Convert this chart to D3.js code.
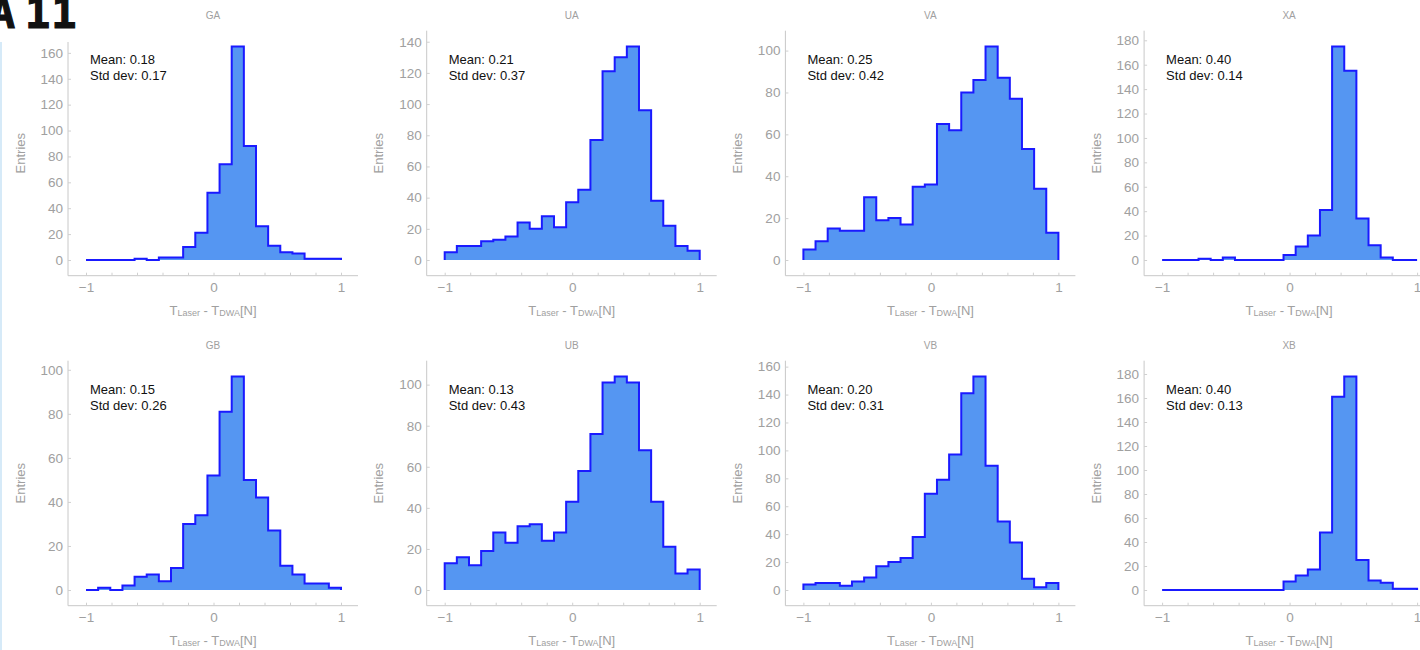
<!DOCTYPE html>
<html>
<head>
<meta charset="utf-8">
<script src="https://cdn.jsdelivr.net/npm/d3@7"></script>
<style>
  html, body { margin: 0; padding: 0; background: #fff; overflow: hidden; }
  svg { display: block; }
  text { font-family: "Liberation Sans", Arial, sans-serif; }
</style>
</head>
<body>
<svg id="chart" width="1420" height="650"></svg>
<script>
// ---- Data -------------------------------------------------------------
const panelNames = ["GA", "UA", "VA", "XA", "GB", "UB", "VB", "XB"];

// Histogram range and number of equal-width bins
const binLow = -1;
const binHigh = 1;
const binTotal = 21;

// Entries per bin, left to right
const countsGA = [0, 0, 0, 0, 1, 0, 2, 2, 10, 21, 52, 74, 165, 88, 26, 11, 6, 5, 1, 1, 1];
const countsUA = [5, 9, 9, 12, 13, 15, 24, 20, 28, 21, 37, 45, 77, 121, 130, 137, 96, 38, 22, 9, 6];
const countsVA = [5, 9, 15, 14, 14, 30, 19, 20, 17, 35, 36, 65, 62, 80, 86, 102, 87, 77, 53, 34, 13];
const countsXA = [0, 0, 0, 1, 0, 2, 0, 0, 0, 0, 4, 11, 20, 41, 175, 155, 34, 12, 2, 0, 0];
const countsGB = [0, 1, 0, 2, 6, 7, 4, 10, 30, 34, 52, 81, 97, 50, 42, 27, 11, 7, 3, 3, 1];
const countsUB = [13, 16, 12, 19, 28, 23, 31, 32, 24, 28, 43, 58, 76, 101, 104, 101, 68, 43, 21, 8, 10];
const countsVB = [4, 5, 5, 3, 6, 9, 17, 20, 23, 38, 69, 79, 97, 141, 153, 89, 49, 34, 8, 2, 5];
const countsXB = [0, 0, 0, 0, 0, 0, 0, 0, 0, 0, 7, 12, 17, 48, 161, 178, 25, 8, 6, 1, 1];

const panelCounts = [countsGA, countsUA, countsVA, countsXA, countsGB, countsUB, countsVB, countsXB];

const means   = [0.18, 0.21, 0.25, 0.40, 0.15, 0.13, 0.20, 0.40];
const stdDevs = [0.17, 0.37, 0.42, 0.14, 0.26, 0.43, 0.31, 0.13];

// Tick labels
const xTickValues = [-1, 0, 1];
const xMinorTickValues = [-1, -0.8, -0.6, -0.4, -0.2, 0, 0.2, 0.4, 0.6, 0.8, 1];
const yTickTops = [160, 140, 100, 180, 100, 100, 160, 180];
const yTickStep = 20;

// ---- Layout -----------------------------------------------------------
const colLeft0 = 68, colStep = 358.7;
const rowTop0 = 30.7, rowStep = 330;
const plotW = 290, plotH = 245;
const xLeft = 18, xRight = 273;     // where -1 and 1 sit inside the frame
const yZero = 229.3, yPeak = 15.7;  // where 0 and the tallest bin sit

const fillColor = "#5596f2";
const lineColor = "#1a1aff";
const axisColor = "#c8c8c8";
const labelColor = "#a0a0a0";

const svg = d3.select("#chart");
svg.append("rect").attr("width", 1420).attr("height", 650).attr("fill", "#fff");

// thin page edge on the left
svg.append("rect")
  .attr("x", 0).attr("y", 42).attr("width", 2).attr("height", 608)
  .attr("fill", "#d6eaf8");

const binWidth = (binHigh - binLow) / binTotal;

panelNames.forEach((name, i) => {
  const col = i % 4, row = Math.floor(i / 4);
  const left = colLeft0 + col * colStep;
  const top = rowTop0 + row * rowStep;
  const counts = panelCounts[i];

  const g = svg.append("g").attr("transform", `translate(${left},${top})`);

  const x = d3.scaleLinear().domain([binLow, binHigh]).range([xLeft, xRight]);
  const y = d3.scaleLinear().domain([0, d3.max(counts)]).range([yZero, yPeak]);

  // step points: one per bin lower edge, closed at the upper edge
  const pts = counts.map((c, k) => ({ x: binLow + k * binWidth, y: c }));
  pts.push({ x: binHigh, y: counts[counts.length - 1] });

  const area = d3.area()
    .curve(d3.curveStepAfter)
    .x(d => x(d.x))
    .y0(y(0))
    .y1(d => y(d.y));

  const line = d3.line()
    .curve(d3.curveStepAfter)
    .x(d => x(d.x))
    .y(d => y(d.y));

  g.append("path")
    .datum(pts)
    .attr("d", area)
    .attr("fill", fillColor);

  g.append("path")
    .datum([{ x: binLow, y: 0 }, ...pts, { x: binHigh, y: 0 }])
    .attr("d", line)
    .attr("fill", "none")
    .attr("stroke", lineColor)
    .attr("stroke-width", 2)
    .attr("stroke-linejoin", "miter");

  // frame lines
  g.append("line")
    .attr("x1", 0).attr("x2", 0).attr("y1", 0).attr("y2", plotH)
    .attr("stroke", axisColor).attr("stroke-width", 1);
  g.append("line")
    .attr("x1", 0).attr("x2", plotW).attr("y1", plotH).attr("y2", plotH)
    .attr("stroke", axisColor).attr("stroke-width", 1);

  // y axis
  const yAxis = d3.axisLeft(y)
    .tickValues(d3.range(0, yTickTops[i] + 1, yTickStep))
    .tickSize(-3)
    .tickSizeOuter(0)
    .tickPadding(5);
  const ya = g.append("g").call(yAxis);
  ya.select(".domain").remove();
  ya.selectAll(".tick line").attr("stroke", "#d0d0d0");
  ya.selectAll(".tick text")
    .attr("fill", labelColor)
    .style("font-size", "13.5px")
    .style("font-family", "'Liberation Sans', Arial, sans-serif");

  // x axis: minor ticks
  const xMinor = d3.axisBottom(x)
    .tickValues(xMinorTickValues)
    .tickSize(-3)
    .tickSizeOuter(0)
    .tickFormat("");
  const xm = g.append("g").attr("transform", `translate(0,${plotH})`).call(xMinor);
  xm.select(".domain").remove();
  xm.selectAll(".tick line").attr("stroke", "#d0d0d0");

  // x axis: labels
  const xAxis = d3.axisBottom(x)
    .tickValues(xTickValues)
    .tickSize(0)
    .tickSizeOuter(0)
    .tickPadding(7)
    .tickFormat(d3.format("d"));
  const xa = g.append("g").attr("transform", `translate(0,${plotH})`).call(xAxis);
  xa.select(".domain").remove();
  xa.selectAll(".tick text")
    .attr("fill", labelColor)
    .style("font-size", "13.5px")
    .style("font-family", "'Liberation Sans', Arial, sans-serif");

  // panel title
  g.append("text")
    .attr("x", plotW / 2).attr("y", -11.5)
    .attr("text-anchor", "middle")
    .attr("fill", labelColor)
    .style("font-size", "10px")
    .text(name);

  // y axis title
  g.append("text")
    .attr("transform", `translate(-48,${plotH / 2}) rotate(-90)`)
    .attr("dy", "0.35em")
    .attr("text-anchor", "middle")
    .attr("fill", labelColor)
    .style("font-size", "13px")
    .text("Entries");

  // x axis title with subscripts
  const xt = g.append("text")
    .attr("x", plotW / 2).attr("y", 284.5)
    .attr("text-anchor", "middle")
    .attr("fill", labelColor)
    .style("font-size", "13px");
  xt.append("tspan").text("T");
  xt.append("tspan").attr("dy", 1).style("font-size", "9px").text("Laser");
  xt.append("tspan").attr("dy", -1).text(" - T");
  xt.append("tspan").attr("dy", 1).style("font-size", "9px").text("DWA");
  xt.append("tspan").attr("dy", -1).text("[N]");

  // summary statistics
  g.append("text")
    .attr("x", 22).attr("y", 33.3)
    .attr("fill", "#111")
    .style("font-size", "13px")
    .text(`Mean: ${means[i].toFixed(2)}`);
  g.append("text")
    .attr("x", 22).attr("y", 49.5)
    .attr("fill", "#111")
    .style("font-size", "13px")
    .text(`Std dev: ${stdDevs[i].toFixed(2)}`);
});

// page heading on a white strip that covers the top of the first frame
svg.append("rect")
  .attr("x", 0).attr("y", 0).attr("width", 80).attr("height", 42)
  .attr("fill", "#fff");
svg.append("text")
  .attr("x", 15).attr("y", 28)
  .attr("text-anchor", "end")
  .style("font-family", "'DejaVu Sans Mono', monospace")
  .style("font-weight", "bold")
  .style("font-size", "42px")
  .attr("fill", "#111")
  .attr("stroke", "#111")
  .attr("stroke-width", 1.2)
  .text("A");
svg.append("text")
  .attr("x", 25).attr("y", 28)
  .style("font-family", "'DejaVu Sans Mono', monospace")
  .style("font-weight", "bold")
  .style("font-size", "42px")
  .style("letter-spacing", "1px")
  .attr("fill", "#111")
  .attr("stroke", "#111")
  .attr("stroke-width", 1.2)
  .text("11");
</script>
</body>
</html>
